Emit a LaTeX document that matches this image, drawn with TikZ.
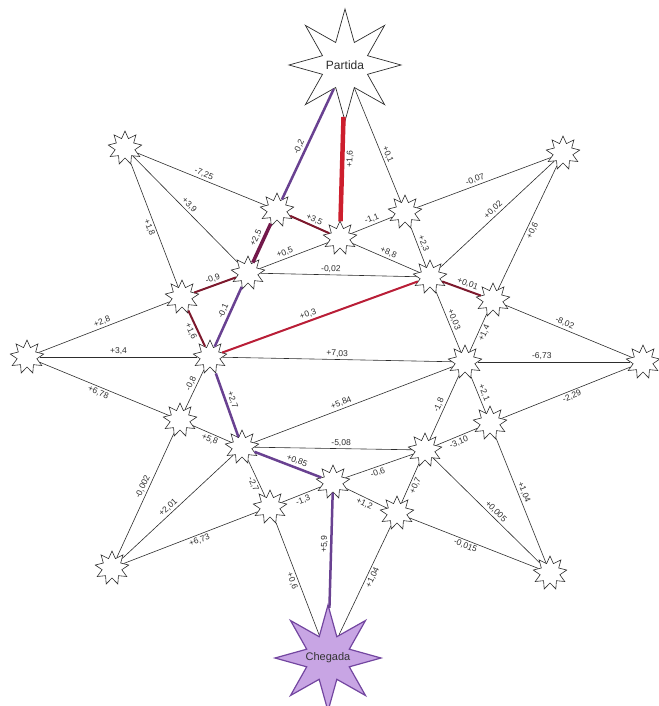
\documentclass[tikz,border=0pt]{standalone}
\usepackage{fontspec}
\setmainfont{Liberation Sans}
\usetikzlibrary{shapes.geometric}
\definecolor{ln}{RGB}{45,45,45}
\definecolor{brred}{RGB}{205,30,45}
\definecolor{mred}{RGB}{185,30,55}
\definecolor{dred}{RGB}{125,25,45}
\definecolor{dmag}{RGB}{115,25,75}
\definecolor{purp}{RGB}{105,65,145}
\definecolor{lav}{RGB}{200,165,228}
\definecolor{lavd}{RGB}{115,70,160}
\begin{document}
\begin{tikzpicture}[x=1pt,y=-1pt,
  sstar/.style={star, star points=9, star point ratio=1.7, minimum size=34pt, inner sep=0pt, draw=ln, fill=white, line width=0.6pt},
  bigstar/.style={star, star points=8, star point ratio=2.3, minimum size=112pt, inner sep=0pt, draw=ln, fill=white, line width=0.7pt},
  bigtext/.style={font=\fontsize{12}{14}\selectfont, text=ln, inner sep=0pt},
  edge/.style={draw=ln, line width=0.6pt},
  redthick/.style={draw=brred, line width=4.5pt},
  redl/.style={draw=mred, line width=2pt},
  dredl/.style={draw=dred, line width=2pt},
  magl/.style={draw=dmag, line width=3.5pt},
  purl/.style={draw=purp, line width=2.5pt},
  lbl/.style={font=\fontsize{8.5}{10}\selectfont, sloped, inner sep=2pt, text=ln}
]
\useasboundingbox (0,0) rectangle (658,706);
% nodes
\node[bigstar] (P) at (345,65) {};
\node[bigtext] (Pt) at (P.center) {Partida};
\node[bigstar, fill=lav, draw=lavd, line width=1.2pt, minimum size=106pt] (Ch) at (328,658) {};
\node[bigtext, font=\fontsize{11}{13}\selectfont, text=black!80] (Cht) at (Ch.center) {Chegada};
\node[sstar] (A) at (125,148) {};
\node[sstar] (B) at (563,153) {};
\node[sstar] (C) at (277,210) {};
\node[sstar] (D) at (340,238) {};
\node[sstar] (E) at (405,212) {};
\node[sstar] (F) at (248,273) {};
\node[sstar] (G) at (430,277) {};
\node[sstar] (H) at (182,297) {};
\node[sstar] (I) at (493,300) {};
\node[sstar] (J) at (27,357) {};
\node[sstar] (K) at (210,357) {};
\node[sstar] (L) at (465,362) {};
\node[sstar] (M) at (643,362) {};
\node[sstar] (N) at (180,420) {};
\node[sstar] (O) at (242,447) {};
\node[sstar] (Q) at (490,423) {};
\node[sstar] (R) at (425,450) {};
\node[sstar] (S) at (333,482) {};
\node[sstar] (T) at (270,507) {};
\node[sstar] (U) at (397,513) {};
\node[sstar] (V) at (112,568) {};
\node[sstar] (W) at (550,573) {};
% edges
\draw[purl] (P) -- node[lbl,above,pos=.55]{-0,2} (C);
\draw[redthick] (P) -- node[lbl,below,pos=.4]{+1,6} (D);
\draw[edge] (P) -- node[lbl,above,pos=.6]{+0,1} (E);
\draw[edge] (A) -- node[lbl,above,pos=.5]{-7,25} (C);
\draw[edge] (A) -- node[lbl,above,pos=.5]{+3,9} (F);
\draw[edge] (A) -- node[lbl,below,pos=.5]{+1,8} (H);
\draw[edge] (B) -- node[lbl,above,pos=.55]{-0,07} (E);
\draw[edge] (B) -- node[lbl,above,pos=.5]{+0,02} (G);
\draw[edge] (B) -- node[lbl,below,pos=.5]{+0,6} (I);
\draw[dredl] (C) -- node[lbl,above,pos=.55]{+3,5} (D);
\draw[magl] (C) -- node[lbl,above,pos=.45]{+2,5} (F);
\draw[edge] (F) -- node[lbl,above,pos=.4]{+0,5} (D);
\draw[edge] (D) -- node[lbl,above,pos=.55]{-1,1} (E);
\draw[edge] (D) -- node[lbl,above,pos=.5]{+8,8} (G);
\draw[edge] (E) -- node[lbl,above,pos=.45]{+2,3} (G);
\draw[edge] (F) -- node[lbl,above,pos=.45]{-0,02} (G);
\draw[dredl] (H) -- node[lbl,above,pos=.5]{-0,9} (F);
\draw[purl] (F) -- node[lbl,above,pos=.45]{-0,1} (K);
\draw[dredl] (H) -- node[lbl,below,pos=.5]{+1,6} (K);
\draw[redl] (K) -- node[lbl,above,pos=.45]{+0,3} (G);
\draw[dredl] (G) -- node[lbl,above,pos=.6]{+0,01} (I);
\draw[edge] (G) -- node[lbl,above,pos=.5]{+0,03} (L);
\draw[edge] (J) -- node[lbl,above,pos=.5]{+2,8} (H);
\draw[edge] (J) -- node[lbl,above,pos=.5]{+3,4} (K);
\draw[edge] (J) -- node[lbl,below,pos=.47]{+6,78} (N);
\draw[edge] (K) -- node[lbl,above,pos=.5]{+7,03} (L);
\draw[edge] (K) -- node[lbl,above,pos=.4]{-0,8} (N);
\draw[purl] (K) -- node[lbl,above,pos=.45]{+2,7} (O);
\draw[edge] (I) -- node[lbl,below,pos=.45]{+1,4} (L);
\draw[edge] (I) -- node[lbl,above,pos=.45]{-8,02} (M);
\draw[edge] (L) -- node[lbl,above,pos=.42]{-6,73} (M);
\draw[edge] (M) -- node[lbl,below,pos=.47]{-2,29} (Q);
\draw[edge] (L) -- node[lbl,above,pos=.5]{+2,1} (Q);
\draw[edge] (L) -- node[lbl,above,pos=.5]{-1,8} (R);
\draw[edge] (O) -- node[lbl,above,pos=.45]{+5,84} (L);
\draw[edge] (O) -- node[lbl,above,pos=.55]{-5,08} (R);
\draw[edge] (N) -- node[lbl,below,pos=.5]{+5,8} (O);
\draw[edge] (N) -- node[lbl,above,pos=.45]{-0,002} (V);
\draw[edge] (O) -- node[lbl,above,pos=.55]{+2,01} (V);
\draw[purl] (O) -- node[lbl,above,pos=.6]{+0,85} (S);
\draw[edge] (O) -- node[lbl,below,pos=.6]{-2,7} (T);
\draw[edge] (T) -- node[lbl,below,pos=.5]{-1,3} (S);
\draw[edge] (V) -- node[lbl,below,pos=.55]{+6,73} (T);
\draw[edge] (T) -- node[lbl,below,pos=.5]{+0,6} (Ch);
\draw[purl] (S) -- node[lbl,above,pos=.45]{+5,9} (Ch);
\draw[edge] (S) -- node[lbl,below,pos=.45]{-0,6} (R);
\draw[edge] (S) -- node[lbl,below,pos=.5]{+1,2} (U);
\draw[edge] (R) -- node[lbl,below,pos=.5]{+0,7} (U);
\draw[edge] (R) -- node[lbl,below,pos=.5]{-3,10} (Q);
\draw[edge] (R) -- node[lbl,above,pos=.55]{+0,005} (W);
\draw[edge] (Q) -- node[lbl,above,pos=.45]{+1,04} (W);
\draw[edge] (U) -- node[lbl,below,pos=.45]{-0,015} (W);
\draw[edge] (U) -- node[lbl,below,pos=.45]{+1,04} (Ch);
\end{tikzpicture}
\end{document}
